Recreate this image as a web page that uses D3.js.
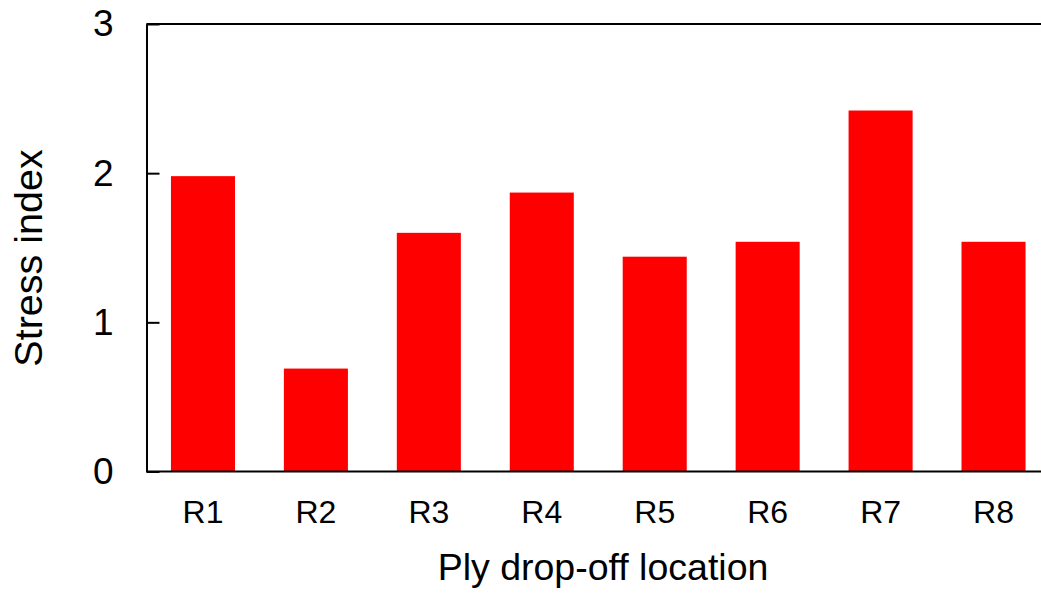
<!DOCTYPE html>
<html>
<head>
<meta charset="utf-8">
<script src="https://cdn.jsdelivr.net/npm/d3@7"></script>
<style>
  html, body { margin: 0; padding: 0; background: #fff; overflow: hidden; }
  svg { display: block; }
  text { font-family: "Liberation Sans", Arial, sans-serif; fill: #000; }
</style>
</head>
<body>
<svg id="chart" width="1041" height="599"></svg>
<script>
const categories = ["R1", "R2", "R3", "R4", "R5", "R6", "R7", "R8"];
const stressIndex = [1.98, 0.69, 1.60, 1.87, 1.44, 1.54, 2.42, 1.54];
const yTicks = [0, 1, 2, 3];
const xTitle = "Ply drop-off location";
const yTitle = "Stress index";

const svg = d3.select("#chart");
const plotLeft = 146.5, plotRight = 1050, plotTop = 24, plotBottom = 471.5;

const x = d3.scaleBand().domain(categories).range([plotLeft, plotRight]).paddingInner(0.433).paddingOuter(0.2165);
const y = d3.scaleLinear().domain([0, 3]).range([plotBottom, plotTop]);

// bars
svg.append("g").selectAll("rect").data(categories).join("rect")
  .attr("x", d => x(d))
  .attr("width", x.bandwidth())
  .attr("y", (d, i) => y(stressIndex[i]))
  .attr("height", (d, i) => plotBottom - y(stressIndex[i]))
  .attr("fill", "#ff0000");

// frame
const frame = svg.append("g").attr("fill", "none").attr("stroke", "#000").attr("stroke-width", 2);
frame.append("line").attr("x1", plotLeft).attr("x2", plotRight).attr("y1", plotTop).attr("y2", plotTop);
frame.append("line").attr("x1", plotLeft).attr("x2", plotRight).attr("y1", plotBottom).attr("y2", plotBottom);
frame.append("line").attr("x1", plotRight).attr("x2", plotRight).attr("y1", plotTop).attr("y2", plotBottom);

// y axis (ticks inward)
const yAxis = d3.axisLeft(y).tickValues(yTicks).tickFormat(d3.format("d")).tickSizeInner(-13).tickSizeOuter(0).tickPadding(33);
const gy = svg.append("g").attr("transform", `translate(${plotLeft},0)`).call(yAxis);
gy.select(".domain").attr("stroke", "#000").attr("stroke-width", 2);
gy.selectAll(".tick line").attr("stroke", "#000").attr("stroke-width", 2);
gy.selectAll(".tick text").attr("font-size", 37).attr("font-family", "Liberation Sans, Arial, sans-serif").attr("fill", "#000");

// x axis (no tick marks)
const xAxis = d3.axisBottom(x).tickSize(0).tickPadding(29);
const gx = svg.append("g").attr("transform", `translate(0,${plotBottom})`).call(xAxis);
gx.select(".domain").remove();
gx.selectAll(".tick text").attr("font-size", 32).attr("font-family", "Liberation Sans, Arial, sans-serif").attr("fill", "#000");

// titles
svg.append("text").attr("x", 603).attr("y", 580).attr("text-anchor", "middle")
  .attr("font-size", 37.5).text(xTitle);
svg.append("text").attr("transform", "translate(42,258) rotate(-90)").attr("text-anchor", "middle")
  .attr("font-size", 39.5).text(yTitle);
</script>
</body>
</html>
